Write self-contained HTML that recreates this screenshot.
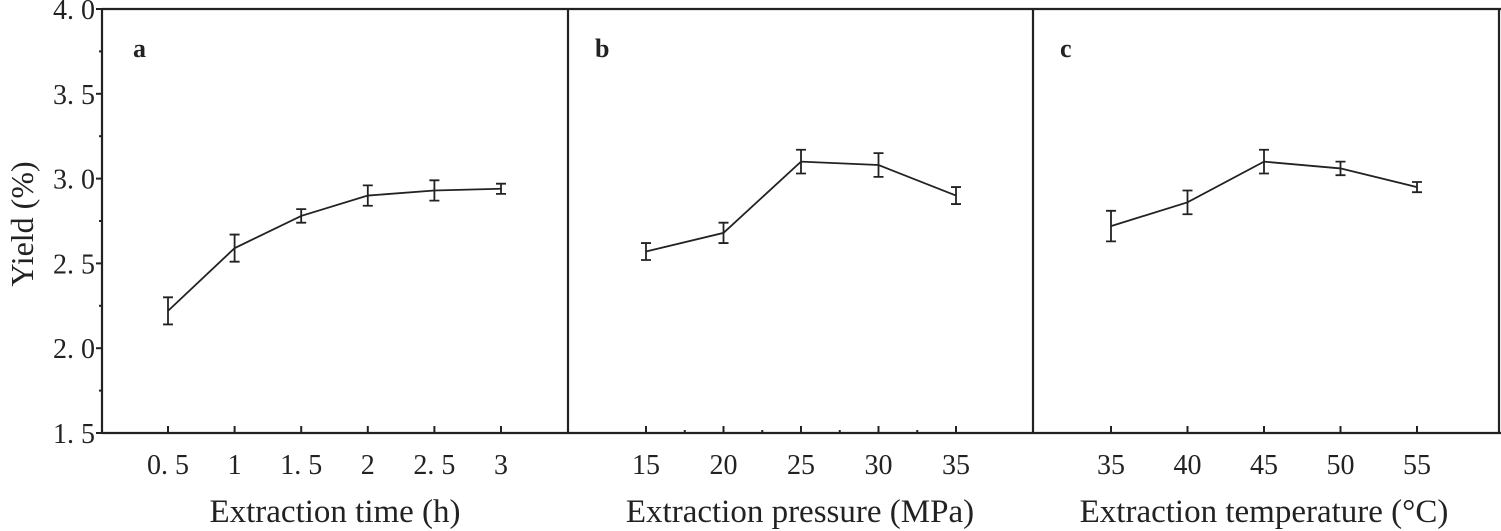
<!DOCTYPE html>
<html><head><meta charset="utf-8"><style>
html,body{margin:0;padding:0;background:#fff;}
svg{display:block;}
text{font-family:"Liberation Serif",serif;fill:#222;}
</style></head><body>
<svg id="chart" width="1501" height="531" viewBox="0 0 1501 531" xmlns="http://www.w3.org/2000/svg"></svg>
<script>
const aX=[0.5,1,1.5,2,2.5,3];
const aY=[2.22,2.59,2.78,2.90,2.93,2.94];
const aE=[0.08,0.08,0.04,0.06,0.06,0.03];
const aTicks=["0. 5","1","1. 5","2","2. 5","3"];
const bX=[15,20,25,30,35];
const bY=[2.57,2.68,3.10,3.08,2.90];
const bE=[0.05,0.06,0.07,0.07,0.05];
const bTicks=["15","20","25","30","35"];
const cX=[35,40,45,50,55];
const cY=[2.72,2.86,3.10,3.06,2.95];
const cE=[0.09,0.07,0.07,0.04,0.03];
const cTicks=["35","40","45","50","55"];
const yTicks=[1.5,2.0,2.5,3.0,3.5,4.0];
const yLabels=["1. 5","2. 0","2. 5","3. 0","3. 5","4. 0"];

const svg=document.getElementById('chart');
const NS="http://www.w3.org/2000/svg";
function el(tag,attrs,txt){const e=document.createElementNS(NS,tag);for(const k in attrs)e.setAttribute(k,attrs[k]);if(txt!=null)e.textContent=txt;svg.appendChild(e);return e;}
const topY=9,botY=433;
function yScale(v){return botY-(v-1.5)/2.5*(botY-topY);}
const S="#222";

let f=el('path',{d:`M102 ${topY} H1501 M102 ${botY} H1501 M102 ${topY} V${botY} M568 ${topY} V${botY} M1033 ${topY} V${botY} M1499 ${topY} V${botY}`,stroke:S,'stroke-width':2.2,fill:'none'});



yTicks.forEach((v,i)=>{
  const l=el('line',{x1:96,x2:102,y1:yScale(v),y2:yScale(v),stroke:S,'stroke-width':2});
  
  
  const t=el('text',{x:95,y:yScale(v)+10,'text-anchor':'end','font-size':28},yLabels[i]);
  
  
  if(i<yTicks.length-1){const m=el('line',{x1:102,x2:99,y1:yScale(v+0.25),y2:yScale(v+0.25),stroke:S,'stroke-width':2});
  
  }
});
const yt=el('text',{x:0,y:0,'font-size':32,'text-anchor':'middle',transform:'translate(33,224) rotate(-90)'},'Yield (%)');



function panel(id,X,Y,E,ticks,x0,v0,v1,x1,title,titleX,minor){
  const sx=v=>x0+(v-v0)/(v1-v0)*(x1-x0);
  X.forEach((v,i)=>{
    const l=el('line',{x1:sx(v),x2:sx(v),y1:botY,y2:botY-7,stroke:S,'stroke-width':2});
    
    
    const t=el('text',{x:sx(v),y:botY+41,'text-anchor':'middle','font-size':28},ticks[i]);
    
    
    if(minor&&i<X.length-1){const mv=v+(X[1]-X[0])/2;const m=el('line',{x1:sx(mv),x2:sx(mv),y1:botY,y2:botY-3,stroke:S,'stroke-width':2});
    
    }
  });
  const p=el('polyline',{points:X.map((v,i)=>sx(v)+','+yScale(Y[i])).join(' '),fill:'none',stroke:S,'stroke-width':1.8});
  
  
  X.forEach((v,i)=>{
    const cx=sx(v),a=yScale(Y[i]+E[i]),b=yScale(Y[i]-E[i]);
    const e=el('path',{d:`M${cx} ${a} V${b} M${cx-5} ${a} H${cx+5} M${cx-5} ${b} H${cx+5}`,stroke:S,'stroke-width':1.8,fill:'none'});
    
    
  });
  const xt=el('text',{x:titleX,y:522,'text-anchor':'middle','font-size':33},title);
  
  
}
panel('a',aX,aY,aE,aTicks,168,0.5,3,501,'Extraction time (h)',335,false);
panel('b',bX,bY,bE,bTicks,646,15,35,956,'Extraction pressure (MPa)',800,true);
panel('c',cX,cY,cE,cTicks,1111,35,55,1417,'Extraction temperature (°C)',1264,false);

[['a',133],['b',595],['c',1060]].forEach(([s,x])=>{
  const t=el('text',{x:x,y:57,'font-size':26,'font-weight':'bold'},s);
  
  
});
</script>
</body></html>
